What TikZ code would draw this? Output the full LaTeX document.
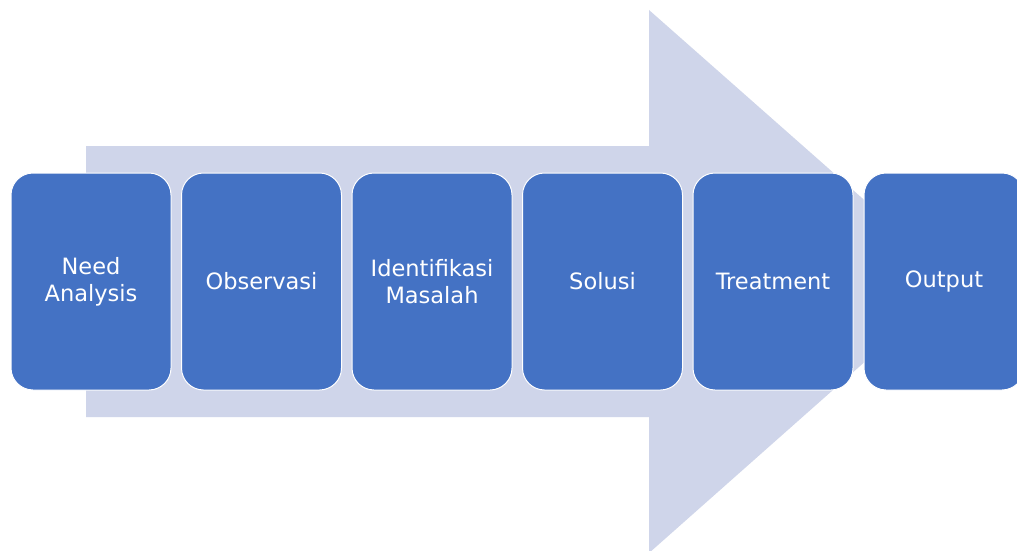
\documentclass[tikz,border=0pt]{standalone}
\usepackage{fontspec}
\setmainfont{DejaVu Sans}
\definecolor{boxblue}{HTML}{4472C4}
\definecolor{arrowgrey}{HTML}{CFD5EA}
\begin{document}
\begin{tikzpicture}[x=1pt,y=-1pt,
  stepbox/.style={draw=white, line width=1pt, fill=boxblue, rounded corners=22pt,
    minimum width=160pt, minimum height=217pt, inner sep=0pt, align=center,
    text=white, font=\fontsize{22.5}{27}\selectfont}]
\useasboundingbox (0,0) rectangle (1017,551);
\clip (0,0) rectangle (1017,551);
\fill[white] (0,0) rectangle (1017,551);
% big background arrow
\fill[arrowgrey] (86,146) -- (649,146) -- (649,10) -- (956,281) -- (649,553) -- (649,417) -- (86,417) -- cycle;
% steps
\node[stepbox] (s1) at (91,281.5) {Need\\Analysis};
\node[stepbox] (s2) at (261.5,281.5) {Observasi};
\node[stepbox] (s3) at (432,281.5) {Identifikasi\\Masalah};
\node[stepbox] (s4) at (602.5,281.5) {Solusi};
\node[stepbox] (s5) at (773,281.5) {Treatment};
\node[stepbox] (s6) at (944,281.5) {Output};
\end{tikzpicture}
\end{document}
